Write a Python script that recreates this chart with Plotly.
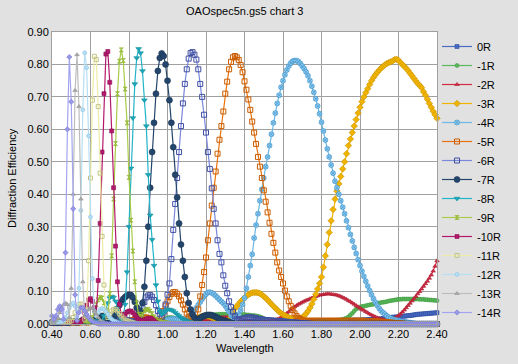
import plotly.graph_objects as go

# sampling grid of the measurement (0.40 ... 2.40 step 0.01)
wavelength = [round(0.40 + 0.01 * i, 2) for i in range(201)]

orders = ["0R", "-1R", "-2R", "-3R", "-4R", "-5R", "-6R", "-7R",
          "-8R", "-9R", "-10R", "-11R", "-12R", "-13R", "-14R"]

x_ticks = [0.40, 0.60, 0.80, 1.00, 1.20, 1.40, 1.60, 1.80, 2.00, 2.20, 2.40]
y_ticks = [0.00, 0.10, 0.20, 0.30, 0.40, 0.50, 0.60, 0.70, 0.80, 0.90]

eff_0R = [
    0.003, 0.003, 0.003, 0.004, 0.004, 0.004, 0.004, 0.005, 0.005, 0.005,
    0.005, 0.005, 0.005, 0.005, 0.005, 0.005, 0.005, 0.005, 0.005, 0.005,
    0.005, 0.005, 0.005, 0.005, 0.005, 0.005, 0.005, 0.005, 0.005, 0.005,
    0.005, 0.005, 0.005, 0.005, 0.005, 0.005, 0.005, 0.005, 0.005, 0.005,
    0.005, 0.005, 0.005, 0.005, 0.005, 0.005, 0.005, 0.005, 0.005, 0.005,
    0.005, 0.005, 0.005, 0.005, 0.005, 0.005, 0.005, 0.005, 0.005, 0.005,
    0.005, 0.005, 0.005, 0.005, 0.005, 0.005, 0.005, 0.005, 0.005, 0.005,
    0.005, 0.005, 0.005, 0.005, 0.005, 0.005, 0.005, 0.005, 0.005, 0.005,
    0.005, 0.005, 0.005, 0.005, 0.005, 0.005, 0.005, 0.005, 0.005, 0.005,
    0.005, 0.005, 0.005, 0.005, 0.005, 0.005, 0.005, 0.005, 0.005, 0.005,
    0.005, 0.005, 0.005, 0.005, 0.005, 0.005, 0.005, 0.005, 0.005, 0.005,
    0.005, 0.005, 0.005, 0.005, 0.005, 0.005, 0.005, 0.005, 0.005, 0.005,
    0.006, 0.006, 0.006, 0.006, 0.006, 0.006, 0.006, 0.006, 0.006, 0.006,
    0.006, 0.006, 0.006, 0.007, 0.007, 0.007, 0.007, 0.008, 0.008, 0.008,
    0.008, 0.008, 0.009, 0.009, 0.009, 0.009, 0.010, 0.010, 0.010, 0.010,
    0.010, 0.010, 0.011, 0.011, 0.011, 0.011, 0.012, 0.012, 0.012, 0.012,
    0.012, 0.012, 0.013, 0.013, 0.013, 0.014, 0.014, 0.014, 0.015, 0.015,
    0.015, 0.016, 0.017, 0.018, 0.019, 0.020, 0.020, 0.021, 0.021, 0.022,
    0.022, 0.023, 0.024, 0.024, 0.025, 0.026, 0.026, 0.027, 0.028, 0.029,
    0.030, 0.030, 0.031, 0.031, 0.032, 0.032, 0.033, 0.033, 0.034, 0.034,
    0.035]

eff_m1R = [
    0.008, 0.006, 0.005, 0.007, 0.010, 0.008, 0.006, 0.005, 0.007, 0.009,
    0.010, 0.008, 0.006, 0.005, 0.007, 0.010, 0.012, 0.010, 0.008, 0.006,
    0.005, 0.007, 0.010, 0.013, 0.014, 0.012, 0.010, 0.008, 0.006, 0.005,
    0.006, 0.008, 0.011, 0.014, 0.016, 0.016, 0.014, 0.012, 0.009, 0.007,
    0.005, 0.005, 0.007, 0.010, 0.013, 0.016, 0.018, 0.018, 0.017, 0.015,
    0.012, 0.009, 0.007, 0.005, 0.005, 0.006, 0.008, 0.011, 0.014, 0.017,
    0.019, 0.020, 0.020, 0.019, 0.017, 0.014, 0.011, 0.008, 0.006, 0.005,
    0.005, 0.006, 0.008, 0.010, 0.013, 0.016, 0.018, 0.020, 0.022, 0.024,
    0.025, 0.026, 0.027, 0.028, 0.028, 0.029, 0.029, 0.030, 0.030, 0.030,
    0.030, 0.030, 0.030, 0.030, 0.030, 0.030, 0.030, 0.029, 0.029, 0.029,
    0.029, 0.028, 0.028, 0.027, 0.026, 0.026, 0.025, 0.024, 0.022, 0.020,
    0.017, 0.014, 0.011, 0.009, 0.007, 0.006, 0.005, 0.005, 0.005, 0.005,
    0.005, 0.005, 0.005, 0.005, 0.005, 0.005, 0.005, 0.005, 0.005, 0.005,
    0.005, 0.005, 0.005, 0.005, 0.005, 0.005, 0.005, 0.006, 0.006, 0.006,
    0.007, 0.007, 0.008, 0.008, 0.009, 0.010, 0.011, 0.011, 0.012, 0.012,
    0.013, 0.014, 0.016, 0.018, 0.022, 0.028, 0.033, 0.040, 0.046, 0.049,
    0.052, 0.054, 0.055, 0.056, 0.058, 0.059, 0.060, 0.061, 0.062, 0.063,
    0.065, 0.066, 0.067, 0.068, 0.069, 0.071, 0.072, 0.073, 0.074, 0.075,
    0.076, 0.076, 0.077, 0.077, 0.077, 0.077, 0.077, 0.077, 0.077, 0.077,
    0.077, 0.076, 0.076, 0.076, 0.075, 0.075, 0.074, 0.074, 0.073, 0.073,
    0.072]

eff_m2R = [
    0.005, 0.004, 0.006, 0.005, 0.004, 0.006, 0.005, 0.004, 0.006, 0.005,
    0.005, 0.006, 0.007, 0.006, 0.005, 0.006, 0.007, 0.006, 0.005, 0.006,
    0.007, 0.008, 0.007, 0.006, 0.007, 0.008, 0.009, 0.008, 0.007, 0.008,
    0.009, 0.010, 0.009, 0.008, 0.009, 0.010, 0.011, 0.010, 0.009, 0.010,
    0.011, 0.012, 0.011, 0.010, 0.011, 0.012, 0.013, 0.012, 0.011, 0.012,
    0.013, 0.014, 0.013, 0.012, 0.012, 0.013, 0.014, 0.014, 0.013, 0.012,
    0.011, 0.011, 0.012, 0.013, 0.014, 0.015, 0.016, 0.016, 0.016, 0.016,
    0.016, 0.016, 0.016, 0.015, 0.015, 0.014, 0.013, 0.012, 0.012, 0.012,
    0.013, 0.014, 0.015, 0.016, 0.017, 0.018, 0.019, 0.020, 0.021, 0.021,
    0.021, 0.021, 0.021, 0.020, 0.019, 0.018, 0.017, 0.015, 0.013, 0.012,
    0.011, 0.010, 0.009, 0.008, 0.008, 0.007, 0.007, 0.007, 0.007, 0.007,
    0.008, 0.008, 0.009, 0.010, 0.011, 0.012, 0.013, 0.015, 0.017, 0.020,
    0.024, 0.028, 0.033, 0.038, 0.044, 0.048, 0.053, 0.057, 0.061, 0.064,
    0.067, 0.070, 0.073, 0.075, 0.078, 0.080, 0.083, 0.085, 0.087, 0.089,
    0.090, 0.091, 0.092, 0.093, 0.093, 0.092, 0.091, 0.090, 0.089, 0.087,
    0.085, 0.082, 0.079, 0.076, 0.072, 0.069, 0.065, 0.061, 0.057, 0.053,
    0.049, 0.045, 0.042, 0.038, 0.035, 0.031, 0.028, 0.025, 0.022, 0.019,
    0.017, 0.015, 0.014, 0.013, 0.013, 0.013, 0.014, 0.016, 0.018, 0.022,
    0.026, 0.031, 0.037, 0.043, 0.050, 0.057, 0.064, 0.071, 0.078, 0.085,
    0.093, 0.100, 0.108, 0.116, 0.124, 0.132, 0.141, 0.151, 0.163, 0.178,
    0.195]

eff_m3R = [
    0.004, 0.003, 0.004, 0.005, 0.004, 0.003, 0.004, 0.005, 0.004, 0.003,
    0.004, 0.005, 0.006, 0.005, 0.004, 0.005, 0.006, 0.007, 0.006, 0.005,
    0.006, 0.007, 0.008, 0.007, 0.006, 0.007, 0.008, 0.009, 0.008, 0.007,
    0.008, 0.009, 0.010, 0.009, 0.008, 0.009, 0.010, 0.011, 0.010, 0.009,
    0.010, 0.011, 0.012, 0.011, 0.010, 0.011, 0.012, 0.012, 0.011, 0.010,
    0.010, 0.010, 0.009, 0.008, 0.007, 0.006, 0.006, 0.005, 0.005, 0.005,
    0.005, 0.005, 0.005, 0.005, 0.005, 0.005, 0.005, 0.005, 0.005, 0.005,
    0.005, 0.007, 0.010, 0.012, 0.015, 0.018, 0.020, 0.022, 0.024, 0.025,
    0.025, 0.024, 0.022, 0.020, 0.018, 0.015, 0.012, 0.010, 0.008, 0.007,
    0.006, 0.008, 0.015, 0.028, 0.040, 0.048, 0.055, 0.062, 0.069, 0.075,
    0.081, 0.086, 0.090, 0.094, 0.096, 0.097, 0.097, 0.096, 0.094, 0.090,
    0.085, 0.080, 0.074, 0.068, 0.061, 0.055, 0.049, 0.043, 0.038, 0.033,
    0.029, 0.026, 0.023, 0.020, 0.018, 0.017, 0.016, 0.016, 0.016, 0.018,
    0.020, 0.025, 0.032, 0.040, 0.050, 0.062, 0.076, 0.092, 0.108, 0.125,
    0.145, 0.175, 0.210, 0.245, 0.282, 0.318, 0.353, 0.385, 0.410, 0.432,
    0.455, 0.478, 0.500, 0.525, 0.550, 0.570, 0.590, 0.610, 0.630, 0.650,
    0.668, 0.685, 0.700, 0.713, 0.725, 0.738, 0.750, 0.760, 0.768, 0.776,
    0.783, 0.789, 0.794, 0.799, 0.803, 0.806, 0.808, 0.811, 0.815, 0.816,
    0.813, 0.806, 0.800, 0.794, 0.788, 0.781, 0.773, 0.765, 0.757, 0.749,
    0.741, 0.735, 0.728, 0.716, 0.705, 0.693, 0.680, 0.668, 0.656, 0.645,
    0.634]

eff_m4R = [
    0.003, 0.004, 0.005, 0.004, 0.003, 0.004, 0.005, 0.004, 0.003, 0.004,
    0.005, 0.004, 0.003, 0.004, 0.005, 0.006, 0.005, 0.004, 0.005, 0.006,
    0.007, 0.006, 0.005, 0.006, 0.007, 0.008, 0.007, 0.006, 0.007, 0.008,
    0.009, 0.008, 0.007, 0.008, 0.009, 0.010, 0.009, 0.008, 0.008, 0.009,
    0.010, 0.011, 0.010, 0.009, 0.008, 0.008, 0.009, 0.010, 0.011, 0.012,
    0.011, 0.010, 0.008, 0.007, 0.006, 0.005, 0.006, 0.008, 0.010, 0.012,
    0.014, 0.015, 0.016, 0.016, 0.016, 0.015, 0.014, 0.013, 0.012, 0.012,
    0.015, 0.020, 0.027, 0.034, 0.042, 0.050, 0.059, 0.068, 0.077, 0.085,
    0.092, 0.097, 0.098, 0.096, 0.092, 0.087, 0.081, 0.075, 0.069, 0.064,
    0.056, 0.047, 0.038, 0.026, 0.016, 0.014, 0.020, 0.030, 0.043, 0.060,
    0.080, 0.110, 0.145, 0.180, 0.215, 0.265, 0.305, 0.340, 0.380, 0.415,
    0.450, 0.485, 0.515, 0.550, 0.585, 0.620, 0.650, 0.680, 0.705, 0.730,
    0.750, 0.768, 0.783, 0.795, 0.804, 0.810, 0.812, 0.812, 0.809, 0.803,
    0.795, 0.787, 0.777, 0.765, 0.750, 0.733, 0.714, 0.694, 0.672, 0.648,
    0.622, 0.595, 0.567, 0.540, 0.515, 0.490, 0.465, 0.440, 0.420, 0.400,
    0.380, 0.360, 0.340, 0.318, 0.297, 0.276, 0.256, 0.236, 0.217, 0.198,
    0.180, 0.163, 0.147, 0.132, 0.117, 0.103, 0.090, 0.078, 0.067, 0.057,
    0.048, 0.040, 0.035, 0.030, 0.025, 0.021, 0.018, 0.015, 0.013, 0.012,
    0.010, 0.009, 0.008, 0.007, 0.006, 0.005, 0.004, 0.003, 0.002, 0.001,
    0.000, 0.000, 0.000, 0.000, 0.000, 0.000, 0.000, 0.000, 0.000, 0.000,
    0.000]

eff_m5R = [
    0.003, 0.004, 0.003, 0.004, 0.005, 0.004, 0.003, 0.004, 0.005, 0.004,
    0.005, 0.006, 0.005, 0.004, 0.005, 0.006, 0.007, 0.006, 0.005, 0.006,
    0.007, 0.008, 0.007, 0.006, 0.007, 0.008, 0.009, 0.008, 0.007, 0.008,
    0.009, 0.010, 0.011, 0.010, 0.009, 0.010, 0.012, 0.013, 0.012, 0.010,
    0.009, 0.010, 0.012, 0.014, 0.016, 0.017, 0.018, 0.019, 0.020, 0.020,
    0.019, 0.018, 0.016, 0.013, 0.010, 0.007, 0.008, 0.020, 0.040, 0.055,
    0.070, 0.083, 0.093, 0.098, 0.098, 0.093, 0.085, 0.073, 0.060, 0.045,
    0.032, 0.022, 0.014, 0.009, 0.008, 0.015, 0.045, 0.085, 0.120, 0.160,
    0.205, 0.258, 0.310, 0.365, 0.420, 0.470, 0.525, 0.568, 0.610, 0.655,
    0.710, 0.747, 0.785, 0.808, 0.822, 0.826, 0.822, 0.814, 0.798, 0.776,
    0.748, 0.722, 0.692, 0.660, 0.624, 0.590, 0.555, 0.515, 0.485, 0.450,
    0.412, 0.377, 0.344, 0.312, 0.278, 0.250, 0.220, 0.190, 0.165, 0.145,
    0.125, 0.103, 0.085, 0.070, 0.056, 0.043, 0.033, 0.025, 0.019, 0.015,
    0.012, 0.010, 0.010, 0.010, 0.010, 0.010, 0.010, 0.010, 0.010, 0.010,
    0.010, 0.010, 0.010, 0.010, 0.010, 0.010, 0.010, 0.010, 0.010, 0.010,
    0.010, 0.010, 0.010, 0.010, 0.010, 0.010, 0.010, 0.010, 0.010, 0.010,
    0.010, 0.010, 0.010, 0.009, 0.009, 0.009, 0.009, 0.008, 0.008, 0.008,
    0.007, 0.007, 0.006, 0.006, 0.005, 0.005, 0.004, 0.004, 0.003, 0.003,
    0.002, 0.002, 0.001, 0.001, 0.000, 0.000, 0.000, 0.000, 0.000, 0.000,
    0.000, 0.000, 0.000, 0.000, 0.000, 0.000, 0.000, 0.000, 0.000, 0.000,
    0.000]

eff_m6R = [
    0.004, 0.005, 0.004, 0.003, 0.004, 0.005, 0.006, 0.005, 0.004, 0.005,
    0.006, 0.007, 0.006, 0.005, 0.006, 0.007, 0.008, 0.007, 0.006, 0.007,
    0.008, 0.009, 0.008, 0.007, 0.008, 0.009, 0.010, 0.009, 0.008, 0.009,
    0.010, 0.011, 0.012, 0.011, 0.010, 0.011, 0.013, 0.014, 0.013, 0.012,
    0.010, 0.009, 0.008, 0.007, 0.006, 0.010, 0.030, 0.050, 0.068, 0.082,
    0.088, 0.089, 0.084, 0.074, 0.058, 0.040, 0.030, 0.022, 0.035, 0.060,
    0.090, 0.125, 0.200, 0.290, 0.370, 0.450, 0.530, 0.610, 0.680, 0.740,
    0.785, 0.818, 0.835, 0.838, 0.830, 0.815, 0.785, 0.740, 0.700, 0.645,
    0.590, 0.530, 0.478, 0.418, 0.355, 0.310, 0.258, 0.216, 0.190, 0.150,
    0.118, 0.095, 0.070, 0.052, 0.038, 0.024, 0.015, 0.013, 0.013, 0.015,
    0.018, 0.020, 0.021, 0.021, 0.020, 0.019, 0.018, 0.016, 0.015, 0.014,
    0.013, 0.012, 0.012, 0.011, 0.011, 0.010, 0.010, 0.009, 0.009, 0.008,
    0.008, 0.007, 0.007, 0.006, 0.006, 0.005, 0.005, 0.004, 0.004, 0.003,
    0.003, 0.002, 0.002, 0.001, 0.001, 0.000, 0.000, 0.000, 0.000, 0.000,
    0, 0, 0, 0, 0, 0, 0, 0, 0, 0,
    0, 0, 0, 0, 0, 0, 0, 0, 0, 0,
    0, 0, 0, 0, 0, 0, 0, 0, 0, 0,
    0, 0, 0, 0, 0, 0, 0, 0, 0, 0,
    0, 0, 0, 0, 0, 0, 0, 0, 0, 0,
    0, 0, 0, 0, 0, 0, 0, 0, 0, 0,
    0]

eff_m7R = [
    0.005, 0.006, 0.005, 0.004, 0.005, 0.006, 0.007, 0.006, 0.005, 0.006,
    0.007, 0.008, 0.007, 0.006, 0.007, 0.008, 0.009, 0.008, 0.007, 0.008,
    0.009, 0.010, 0.012, 0.015, 0.018, 0.022, 0.025, 0.024, 0.020, 0.012,
    0.005, 0.010, 0.020, 0.030, 0.045, 0.058, 0.068, 0.077, 0.083, 0.088,
    0.090, 0.089, 0.082, 0.068, 0.050, 0.035, 0.040, 0.065, 0.115, 0.195,
    0.300, 0.420, 0.530, 0.620, 0.710, 0.780, 0.820, 0.834, 0.826, 0.800,
    0.750, 0.690, 0.620, 0.545, 0.460, 0.390, 0.310, 0.245, 0.195, 0.145,
    0.095, 0.065, 0.045, 0.030, 0.020, 0.016, 0.015, 0.018, 0.022, 0.025,
    0.027, 0.028, 0.028, 0.027, 0.025, 0.022, 0.019, 0.016, 0.013, 0.011,
    0.010, 0.008, 0.006, 0.004, 0.002, 0.000, 0.000, 0.000, 0.000, 0.000,
    0, 0, 0, 0, 0, 0, 0, 0, 0, 0,
    0, 0, 0, 0, 0, 0, 0, 0, 0, 0,
    0, 0, 0, 0, 0, 0, 0, 0, 0, 0,
    0, 0, 0, 0, 0, 0, 0, 0, 0, 0,
    0, 0, 0, 0, 0, 0, 0, 0, 0, 0,
    0, 0, 0, 0, 0, 0, 0, 0, 0, 0,
    0, 0, 0, 0, 0, 0, 0, 0, 0, 0,
    0, 0, 0, 0, 0, 0, 0, 0, 0, 0,
    0, 0, 0, 0, 0, 0, 0, 0, 0, 0,
    0, 0, 0, 0, 0, 0, 0, 0, 0, 0,
    0]

eff_m8R = [
    0.004, 0.005, 0.006, 0.005, 0.004, 0.005, 0.006, 0.007, 0.006, 0.005,
    0.006, 0.007, 0.008, 0.007, 0.006, 0.007, 0.008, 0.009, 0.008, 0.007,
    0.008, 0.009, 0.010, 0.009, 0.007, 0.005, 0.010, 0.025, 0.045, 0.065,
    0.080, 0.085, 0.082, 0.070, 0.050, 0.030, 0.015, 0.025, 0.060, 0.160,
    0.300, 0.480, 0.635, 0.740, 0.820, 0.848, 0.835, 0.780, 0.690, 0.610,
    0.460, 0.335, 0.260, 0.180, 0.120, 0.070, 0.040, 0.030, 0.035, 0.040,
    0.045, 0.045, 0.043, 0.040, 0.035, 0.030, 0.025, 0.020, 0.015, 0.012,
    0.010, 0.008, 0.006, 0.004, 0.002, 0.000, 0.000, 0.000, 0.000, 0.000,
    0, 0, 0, 0, 0, 0, 0, 0, 0, 0,
    0, 0, 0, 0, 0, 0, 0, 0, 0, 0,
    0, 0, 0, 0, 0, 0, 0, 0, 0, 0,
    0, 0, 0, 0, 0, 0, 0, 0, 0, 0,
    0, 0, 0, 0, 0, 0, 0, 0, 0, 0,
    0, 0, 0, 0, 0, 0, 0, 0, 0, 0,
    0, 0, 0, 0, 0, 0, 0, 0, 0, 0,
    0, 0, 0, 0, 0, 0, 0, 0, 0, 0,
    0, 0, 0, 0, 0, 0, 0, 0, 0, 0,
    0, 0, 0, 0, 0, 0, 0, 0, 0, 0,
    0, 0, 0, 0, 0, 0, 0, 0, 0, 0,
    0, 0, 0, 0, 0, 0, 0, 0, 0, 0,
    0]

eff_m9R = [
    0.005, 0.006, 0.007, 0.006, 0.005, 0.006, 0.007, 0.008, 0.007, 0.006,
    0.007, 0.008, 0.009, 0.008, 0.007, 0.008, 0.009, 0.010, 0.009, 0.008,
    0.010, 0.020, 0.040, 0.060, 0.075, 0.082, 0.080, 0.065, 0.040, 0.025,
    0.093, 0.210, 0.385, 0.556, 0.710, 0.810, 0.845, 0.812, 0.724, 0.620,
    0.452, 0.320, 0.225, 0.130, 0.065, 0.030, 0.025, 0.030, 0.040, 0.045,
    0.045, 0.040, 0.032, 0.022, 0.015, 0.010, 0.008, 0.006, 0.005, 0.004,
    0.003, 0.002, 0.001, 0.000, 0.000, 0.000, 0.000, 0.000, 0.000, 0.000,
    0, 0, 0, 0, 0, 0, 0, 0, 0, 0,
    0, 0, 0, 0, 0, 0, 0, 0, 0, 0,
    0, 0, 0, 0, 0, 0, 0, 0, 0, 0,
    0, 0, 0, 0, 0, 0, 0, 0, 0, 0,
    0, 0, 0, 0, 0, 0, 0, 0, 0, 0,
    0, 0, 0, 0, 0, 0, 0, 0, 0, 0,
    0, 0, 0, 0, 0, 0, 0, 0, 0, 0,
    0, 0, 0, 0, 0, 0, 0, 0, 0, 0,
    0, 0, 0, 0, 0, 0, 0, 0, 0, 0,
    0, 0, 0, 0, 0, 0, 0, 0, 0, 0,
    0, 0, 0, 0, 0, 0, 0, 0, 0, 0,
    0, 0, 0, 0, 0, 0, 0, 0, 0, 0,
    0, 0, 0, 0, 0, 0, 0, 0, 0, 0,
    0]

eff_m10R = [
    0.005, 0.004, 0.005, 0.006, 0.005, 0.004, 0.005, 0.006, 0.007, 0.006,
    0.005, 0.006, 0.007, 0.006, 0.005, 0.005, 0.015, 0.035, 0.058, 0.074,
    0.078, 0.070, 0.050, 0.030, 0.134, 0.310, 0.530, 0.710, 0.832, 0.840,
    0.745, 0.595, 0.420, 0.240, 0.130, 0.060, 0.030, 0.025, 0.030, 0.037,
    0.040, 0.040, 0.035, 0.028, 0.020, 0.015, 0.012, 0.010, 0.012, 0.015,
    0.017, 0.018, 0.015, 0.010, 0.005, 0.002, 0.000, 0.000, 0.000, 0.000,
    0, 0, 0, 0, 0, 0, 0, 0, 0, 0,
    0, 0, 0, 0, 0, 0, 0, 0, 0, 0,
    0, 0, 0, 0, 0, 0, 0, 0, 0, 0,
    0, 0, 0, 0, 0, 0, 0, 0, 0, 0,
    0, 0, 0, 0, 0, 0, 0, 0, 0, 0,
    0, 0, 0, 0, 0, 0, 0, 0, 0, 0,
    0, 0, 0, 0, 0, 0, 0, 0, 0, 0,
    0, 0, 0, 0, 0, 0, 0, 0, 0, 0,
    0, 0, 0, 0, 0, 0, 0, 0, 0, 0,
    0, 0, 0, 0, 0, 0, 0, 0, 0, 0,
    0, 0, 0, 0, 0, 0, 0, 0, 0, 0,
    0, 0, 0, 0, 0, 0, 0, 0, 0, 0,
    0, 0, 0, 0, 0, 0, 0, 0, 0, 0,
    0, 0, 0, 0, 0, 0, 0, 0, 0, 0,
    0]

eff_m11R = [
    0.005, 0.006, 0.007, 0.006, 0.005, 0.006, 0.007, 0.008, 0.007, 0.008,
    0.010, 0.020, 0.035, 0.050, 0.060, 0.062, 0.045, 0.015, 0.045, 0.195,
    0.450, 0.690, 0.825, 0.815, 0.670, 0.465, 0.270, 0.120, 0.040, 0.020,
    0.030, 0.040, 0.045, 0.045, 0.040, 0.032, 0.025, 0.018, 0.012, 0.010,
    0.008, 0.006, 0.004, 0.002, 0.000, 0.000, 0.000, 0.000, 0.000, 0.000,
    0, 0, 0, 0, 0, 0, 0, 0, 0, 0,
    0, 0, 0, 0, 0, 0, 0, 0, 0, 0,
    0, 0, 0, 0, 0, 0, 0, 0, 0, 0,
    0, 0, 0, 0, 0, 0, 0, 0, 0, 0,
    0, 0, 0, 0, 0, 0, 0, 0, 0, 0,
    0, 0, 0, 0, 0, 0, 0, 0, 0, 0,
    0, 0, 0, 0, 0, 0, 0, 0, 0, 0,
    0, 0, 0, 0, 0, 0, 0, 0, 0, 0,
    0, 0, 0, 0, 0, 0, 0, 0, 0, 0,
    0, 0, 0, 0, 0, 0, 0, 0, 0, 0,
    0, 0, 0, 0, 0, 0, 0, 0, 0, 0,
    0, 0, 0, 0, 0, 0, 0, 0, 0, 0,
    0, 0, 0, 0, 0, 0, 0, 0, 0, 0,
    0, 0, 0, 0, 0, 0, 0, 0, 0, 0,
    0, 0, 0, 0, 0, 0, 0, 0, 0, 0,
    0]

eff_m12R = [
    0.006, 0.007, 0.006, 0.005, 0.006, 0.007, 0.010, 0.020, 0.035, 0.050,
    0.060, 0.065, 0.055, 0.020, 0.110, 0.350, 0.660, 0.836, 0.790, 0.580,
    0.330, 0.140, 0.040, 0.025, 0.035, 0.045, 0.048, 0.045, 0.038, 0.030,
    0.020, 0.015, 0.010, 0.008, 0.005, 0.003, 0.001, 0.000, 0.000, 0.000,
    0, 0, 0, 0, 0, 0, 0, 0, 0, 0,
    0, 0, 0, 0, 0, 0, 0, 0, 0, 0,
    0, 0, 0, 0, 0, 0, 0, 0, 0, 0,
    0, 0, 0, 0, 0, 0, 0, 0, 0, 0,
    0, 0, 0, 0, 0, 0, 0, 0, 0, 0,
    0, 0, 0, 0, 0, 0, 0, 0, 0, 0,
    0, 0, 0, 0, 0, 0, 0, 0, 0, 0,
    0, 0, 0, 0, 0, 0, 0, 0, 0, 0,
    0, 0, 0, 0, 0, 0, 0, 0, 0, 0,
    0, 0, 0, 0, 0, 0, 0, 0, 0, 0,
    0, 0, 0, 0, 0, 0, 0, 0, 0, 0,
    0, 0, 0, 0, 0, 0, 0, 0, 0, 0,
    0, 0, 0, 0, 0, 0, 0, 0, 0, 0,
    0, 0, 0, 0, 0, 0, 0, 0, 0, 0,
    0, 0, 0, 0, 0, 0, 0, 0, 0, 0,
    0, 0, 0, 0, 0, 0, 0, 0, 0, 0,
    0]

eff_m13R = [
    0.010, 0.005, 0.010, 0.020, 0.035, 0.050, 0.060, 0.065, 0.060, 0.020,
    0.110, 0.400, 0.720, 0.830, 0.670, 0.385, 0.130, 0.025, 0.030, 0.045,
    0.050, 0.048, 0.040, 0.030, 0.020, 0.012, 0.008, 0.005, 0.003, 0.001,
    0, 0, 0, 0, 0, 0, 0, 0, 0, 0,
    0, 0, 0, 0, 0, 0, 0, 0, 0, 0,
    0, 0, 0, 0, 0, 0, 0, 0, 0, 0,
    0, 0, 0, 0, 0, 0, 0, 0, 0, 0,
    0, 0, 0, 0, 0, 0, 0, 0, 0, 0,
    0, 0, 0, 0, 0, 0, 0, 0, 0, 0,
    0, 0, 0, 0, 0, 0, 0, 0, 0, 0,
    0, 0, 0, 0, 0, 0, 0, 0, 0, 0,
    0, 0, 0, 0, 0, 0, 0, 0, 0, 0,
    0, 0, 0, 0, 0, 0, 0, 0, 0, 0,
    0, 0, 0, 0, 0, 0, 0, 0, 0, 0,
    0, 0, 0, 0, 0, 0, 0, 0, 0, 0,
    0, 0, 0, 0, 0, 0, 0, 0, 0, 0,
    0, 0, 0, 0, 0, 0, 0, 0, 0, 0,
    0, 0, 0, 0, 0, 0, 0, 0, 0, 0,
    0, 0, 0, 0, 0, 0, 0, 0, 0, 0,
    0, 0, 0, 0, 0, 0, 0, 0, 0, 0,
    0]

eff_m14R = [
    0.025, 0.015, 0.025, 0.045, 0.055, 0.045, 0.015, 0.220, 0.600, 0.823,
    0.685, 0.355, 0.090, 0.010, 0.035, 0.050, 0.050, 0.040, 0.030, 0.020,
    0.012, 0.008, 0.005, 0.003, 0.001, 0.000, 0.000, 0.000, 0.000, 0.000,
    0, 0, 0, 0, 0, 0, 0, 0, 0, 0,
    0, 0, 0, 0, 0, 0, 0, 0, 0, 0,
    0, 0, 0, 0, 0, 0, 0, 0, 0, 0,
    0, 0, 0, 0, 0, 0, 0, 0, 0, 0,
    0, 0, 0, 0, 0, 0, 0, 0, 0, 0,
    0, 0, 0, 0, 0, 0, 0, 0, 0, 0,
    0, 0, 0, 0, 0, 0, 0, 0, 0, 0,
    0, 0, 0, 0, 0, 0, 0, 0, 0, 0,
    0, 0, 0, 0, 0, 0, 0, 0, 0, 0,
    0, 0, 0, 0, 0, 0, 0, 0, 0, 0,
    0, 0, 0, 0, 0, 0, 0, 0, 0, 0,
    0, 0, 0, 0, 0, 0, 0, 0, 0, 0,
    0, 0, 0, 0, 0, 0, 0, 0, 0, 0,
    0, 0, 0, 0, 0, 0, 0, 0, 0, 0,
    0, 0, 0, 0, 0, 0, 0, 0, 0, 0,
    0, 0, 0, 0, 0, 0, 0, 0, 0, 0,
    0, 0, 0, 0, 0, 0, 0, 0, 0, 0,
    0]

series = [eff_0R, eff_m1R, eff_m2R, eff_m3R, eff_m4R, eff_m5R, eff_m6R, eff_m7R,
          eff_m8R, eff_m9R, eff_m10R, eff_m11R, eff_m12R, eff_m13R, eff_m14R]

# styles
line_colors = ["#4a6cc4", "#5cb85c", "#d22b44", "#f0b400", "#6ab8e6", "#e8730c",
               "#7a88da", "#24466c", "#22b4c8", "#a8cc48", "#b4186c", "#ececa8",
               "#b6def4", "#bcbcbc", "#a4a4f0"]
marker_fill = ["#4a6cc4", "#5cb85c", "#d22b44", "#f0b400", "#8ccaf0", "white",
               "white", "#24466c", "#1aa8bc", "#a8cc48", "#b4186c", "white",
               "#b6def4", "#aaaaaa", "#9898e8"]
marker_edge = ["#2c4c9c", "#3c983c", "#a81c30", "#c89000", "#3c90c8", "#c85c00",
               "#4050a0", "#1a3452", "#168e9e", "#88ac28", "#8c1050", "#c4c488",
               "#8cc4e4", "#909090", "#7474d0"]
symbols = ["square", "circle", "triangle-up", "diamond", "circle-x", "square-open",
           "square-open", "circle", "triangle-down", "hourglass", "square",
           "square-open", "circle", "triangle-up", "diamond"]
sizes = [4, 4, 4, 5, 5, 5, 5, 6, 5, 4, 4, 4, 4, 4, 4]

fig = go.Figure()
for name, vals, lc, mf, me, sym, sz in zip(orders, series, line_colors, marker_fill,
                                            marker_edge, symbols, sizes):
    assert len(vals) == len(wavelength), (name, len(vals))
    open_sym = sym.endswith("-open")
    fig.add_trace(go.Scatter(
        x=wavelength, y=vals, name=name, mode="lines+markers",
        line=dict(color=lc, width=1.2),
        marker=dict(symbol=sym, size=sz,
                    color=me if open_sym else mf,
                    line=dict(color=me, width=1.0 if open_sym else 0.6)),
        cliponaxis=False,
    ))

font_family = "Arial, Liberation Sans, sans-serif"
fig.update_layout(
    template="none",
    width=518, height=364,
    margin=dict(l=52, r=81, t=32, b=40, autoexpand=False),
    paper_bgcolor="#e1e1e1", plot_bgcolor="white",
    font=dict(family=font_family, size=11, color="black"),
    showlegend=True,
    legend=dict(x=1.0, y=1.0, xanchor="left", yanchor="top",
                bgcolor="rgba(0,0,0,0)", borderwidth=0, font=dict(size=11),
                itemwidth=30, tracegroupgap=0, maxheight=340),
    xaxis=dict(range=[0.4, 2.4], tickvals=x_ticks, tickformat=".2f",
               showgrid=True, gridcolor="#a0a0a0", gridwidth=1,
               showline=True, linecolor="#a0a0a0", linewidth=1, mirror=True,
               zeroline=False, ticks="", tickfont=dict(size=11),
               automargin=False),
    yaxis=dict(range=[0, 0.9], tickvals=y_ticks, tickformat=".2f",
               showgrid=True, gridcolor="#a0a0a0", gridwidth=1,
               showline=True, linecolor="#a0a0a0", linewidth=1, mirror=True,
               zeroline=False, ticks="", tickfont=dict(size=11),
               automargin=False),
    annotations=[
        dict(text="OAOspec5n.gs5 chart 3", xref="paper", yref="paper",
             x=0.5, y=1 + 21 / 292, xanchor="center", yanchor="middle",
             showarrow=False, font=dict(size=11)),
        dict(text="Wavelength", xref="paper", yref="paper",
             x=0.5, y=-24 / 292, xanchor="center", yanchor="middle",
             showarrow=False, font=dict(size=11)),
        dict(text="Diffraction Efficiency", xref="paper", yref="paper",
             x=-40 / 385, y=0.5, xanchor="center", yanchor="middle",
             textangle=-90, showarrow=False, font=dict(size=11)),
    ],
)

fig.write_html(
    "out.html",
    config={"displayModeBar": False},
    post_script="document.body.style.margin='0';document.body.style.padding='0';",
)
